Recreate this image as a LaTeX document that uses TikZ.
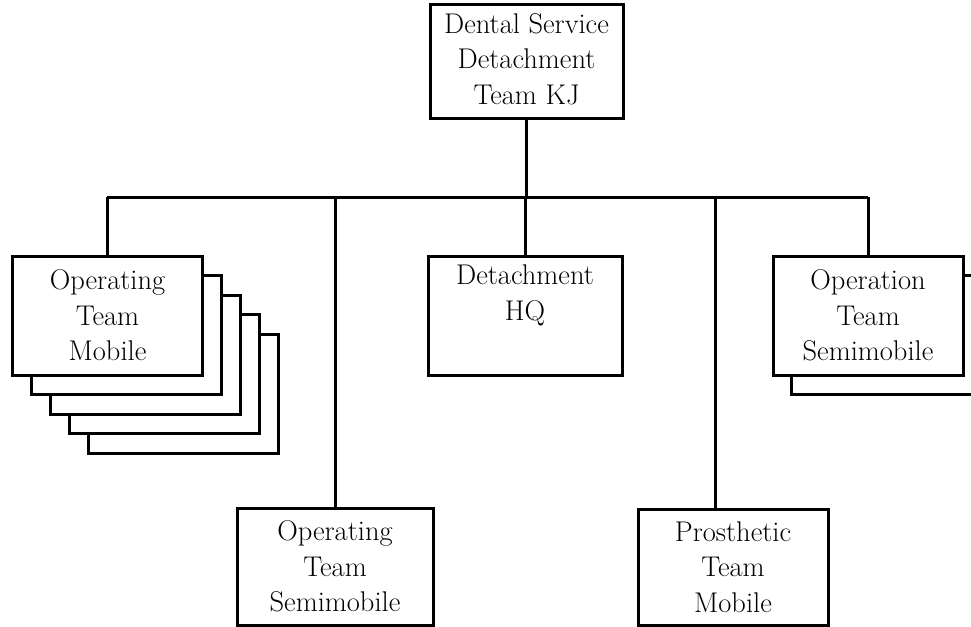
\documentclass[tikz,border=0pt]{standalone}
\usepackage{fontspec}
\begin{document}
\begin{tikzpicture}[x=1pt,y=-1pt,
  unit/.style={draw, line width=3pt, fill=white, inner sep=0pt, align=center,
    font=\fontsize{28.5}{35.5}\selectfont},
  wide/.style={unit, minimum width=190pt, minimum height=119pt},
  link/.style={line width=3pt}]
\useasboundingbox (0,0) rectangle (971,626);
\clip (0,0) rectangle (971,626);

% top unit
\node[unit, minimum width=193pt, minimum height=113pt] (kj) at (526.5,61.5)
  {\raisebox{-6pt}{\begin{tabular}{@{}c@{}}Dental Service\\Detachment\\Team KJ\end{tabular}}};

% stacked mobile operating teams (back to front)
\node[wide] (mob5) at (183,393.5) {};
\node[wide] (mob4) at (164,374) {};
\node[wide] (mob3) at (145.5,355) {};
\node[wide] (mob2) at (126,334.5) {};
\node[wide] (mob)  at (107.5,315.5) {Operating\\Team\\Mobile};

% detachment HQ
\node[wide, minimum width=194pt] (hq) at (525,315.5) {Detachment\\HQ\\\strut};

% semimobile operation teams (shadow behind)
\node[wide] (ops2) at (886,334.5) {};
\node[wide] (ops)  at (868,315.5) {Operation\\Team\\Semimobile};

% lower units
\node[wide, minimum width=196pt, minimum height=117pt] (semi) at (335,566.5)
  {Operating\\Team\\Semimobile};
\node[wide, minimum width=190pt, minimum height=116pt] (pros) at (733,567)
  {Prosthetic\\Team\\Mobile};

% bus and drops
\coordinate (busL) at (107,197);
\coordinate (busR) at (868,197);
\coordinate (dropS) at (335,197);
\coordinate (dropH) at (525,197);
\coordinate (dropP) at (715,197);
\draw[link] (busL) -- (busR);
\draw[link] (kj.south) -- (kj.south |- busL);
\draw[link] (busL) -- (busL |- mob.north);
\draw[link] (dropS) -- (dropS |- semi.north);
\draw[link] (dropH) -- (dropH |- hq.north);
\draw[link] (dropP) -- (dropP |- pros.north);
\draw[link] (busR) -- (busR |- ops.north);
\end{tikzpicture}
\end{document}
